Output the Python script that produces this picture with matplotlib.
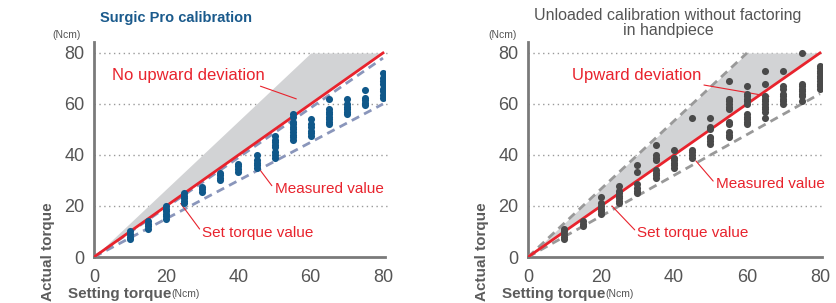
import numpy as np
import matplotlib.pyplot as plt

plt.rcParams['font.family'] = ['Liberation Sans', 'DejaVu Sans']

# setting torques (Ncm)
set_torque = [10, 15, 20, 25, 30, 35, 40, 45, 50, 55, 60, 65, 70, 75, 80]

# Surgic Pro calibration - measured values per setting
pro_vals = [
    [7, 8, 9, 10],
    [11, 12, 13, 14],
    [15, 16, 17, 18, 19, 20],
    [21, 22, 23, 24, 25],
    [25.5, 26.5, 27.5],
    [30, 31, 32, 33],
    [33.5, 34.5, 35.5, 36.5],
    [35, 36, 37, 38, 40],
    [39, 40, 41, 43, 44, 45, 46, 47.5],
    [46, 47, 48, 49, 50, 51, 52, 53, 55, 56],
    [47.5, 48.5, 49.5, 51, 52, 54],
    [52, 53, 54, 55, 56, 57, 58, 62],
    [56, 57, 58, 59, 60, 62],
    [59.5, 60.5, 61.5, 62.5, 65.5],
    [62.5, 63.5, 65, 66, 68, 69, 70, 72],
]

# unloaded calibration - measured values per setting
unl_vals = [
    [7, 8, 9, 10, 11],
    [12, 13, 14],
    [17, 18, 19, 20, 21, 23.5],
    [21, 22, 23, 24, 25, 26, 28],
    [25, 26, 27, 28.5, 33.5, 36],
    [31, 32, 33, 34, 38, 39, 40, 44],
    [35, 36, 37, 38, 39, 42],
    [39, 40, 41, 42, 54.5],
    [44.5, 45.5, 46.5, 47, 50, 51, 54.5],
    [47, 48, 49, 52, 53, 58, 59, 60, 61, 62, 69],
    [52, 53, 54, 55, 56, 60, 61, 62, 63, 64, 67],
    [54.5, 57, 58, 59, 60, 61, 62, 63, 68, 73],
    [60, 61, 62, 63, 64, 66, 67, 73],
    [61, 63, 64, 65, 66, 67, 68, 80],
    [66, 67, 68, 69, 70, 71, 72, 73, 74, 75],
]

grid_y = [20, 40, 60, 80]
ticks = [0, 20, 40, 60, 80]
band_x = [0, 60, 80]
band_top = [0, 80, 80]
band_low = [0, 60, 80]

RED = '#e8232d'
GREY_TXT = '#555555'

fig = plt.figure(figsize=(8.36, 3.03), dpi=100)
W, H = 836, 303


def setup(ax):
    ax.set_xlim(0, 80.5)
    ax.set_ylim(0, 84.3)
    for s in ['top', 'right']:
        ax.spines[s].set_visible(False)
    for s in ['left', 'bottom']:
        ax.spines[s].set_color('#7a7a7a')
        ax.spines[s].set_linewidth(2)
    ax.set_xticks(ticks)
    ax.set_yticks(ticks)
    ax.tick_params(length=0, labelsize=13, colors=GREY_TXT)
    ax.tick_params(axis='y', pad=7)
    ax.tick_params(axis='x', pad=9)
    for g in grid_y:
        ax.plot([0, 81], [g, g], ls=(0, (1, 2.5)), color='#999999', lw=1, clip_on=False, zorder=1)


def fx(px):
    return px / W


def fy(py):
    return 1 - py / H


# ---------- left panel ----------
ax1 = fig.add_axes([fx(94), fy(257), 290.8 / W, 215 / H])
setup(ax1)
ax1.fill_between(band_x, band_low, band_top, color='#d2d3d5', lw=0, zorder=2)
x = np.array([0, 80])
ax1.plot(x, 0.975 * x, ls=(0, (3, 2)), color='#8a96bb', lw=2, zorder=3)
ax1.plot(x, 0.75 * x, ls=(0, (3, 2)), color='#8a96bb', lw=2, zorder=3)
ax1.plot(x, x, color=RED, lw=2, zorder=4)
for st, vals in zip(set_torque, pro_vals):
    ax1.scatter([st] * len(vals), vals, s=26, color='#10588a', lw=0, zorder=5)

ax1.annotate('No upward deviation', xy=(56, 62), xytext=(5, 71), color=RED, fontsize=12,
             va='center', arrowprops=dict(arrowstyle='-', color=RED, lw=0.8, shrinkA=0, shrinkB=0,
                                          relpos=(0.92, 0)))
ax1.annotate('Measured value', xy=(45.5, 35), xytext=(50, 26.5), color=RED, fontsize=11,
             va='center', arrowprops=dict(arrowstyle='-', color=RED, lw=0.8, shrinkA=0, shrinkB=2,
                                          relpos=(0, 0.5)))
ax1.annotate('Set torque value', xy=(24, 21), xytext=(30, 9.5), color=RED, fontsize=11,
             va='center', arrowprops=dict(arrowstyle='-', color=RED, lw=0.8, shrinkA=0, shrinkB=0,
                                          relpos=(0, 0.5)))

fig.text(fx(100), fy(18), 'Surgic Pro calibration', color='#1a5a8c', fontsize=10.5,
         fontweight='bold', va='center')
fig.text(fx(52), fy(35), '(Ncm)', color=GREY_TXT, fontsize=7.5, va='center')
fig.text(fx(48), fy(252), 'Actual torque', color='#5c5c5c', fontsize=11, rotation=90,
         ha='center', va='center', fontweight='bold')
fig.text(fx(68), fy(294), 'Setting torque', color='#5c5c5c', fontsize=11, va='center',
         fontweight='bold')
fig.text(fx(171), fy(294), '(Ncm)', color=GREY_TXT, fontsize=7.5, va='center')

# ---------- right panel ----------
ax2 = fig.add_axes([fx(528), fy(257), 293.8 / W, 215 / H])
setup(ax2)
ax2.fill_between(band_x, band_low, band_top, color='#d2d3d5', lw=0, zorder=2)
ax2.plot([0, 60], [0, 80], ls=(0, (3, 2)), color='#999999', lw=2, zorder=3)
ax2.plot(x, 0.8 * x, ls=(0, (3, 2)), color='#999999', lw=2, zorder=3)
ax2.plot(x, x, color=RED, lw=2, zorder=4)
for st, vals in zip(set_torque, unl_vals):
    ax2.scatter([st] * len(vals), vals, s=26, color='#4a4a4a', lw=0, zorder=5)

ax2.annotate('Upward deviation', xy=(66, 63), xytext=(12, 71), color=RED, fontsize=12,
             va='center', arrowprops=dict(arrowstyle='-', color=RED, lw=0.8, shrinkA=0, shrinkB=0,
                                          relpos=(0.95, 0)))
ax2.annotate('Measured value', xy=(45.5, 38.5), xytext=(51.5, 28.5), color=RED, fontsize=11,
             va='center', arrowprops=dict(arrowstyle='-', color=RED, lw=0.8, shrinkA=0, shrinkB=2,
                                          relpos=(0, 0.5)))
ax2.annotate('Set torque value', xy=(23, 20), xytext=(30, 9.5), color=RED, fontsize=11,
             va='center', arrowprops=dict(arrowstyle='-', color=RED, lw=0.8, shrinkA=0, shrinkB=0,
                                          relpos=(0, 0.5)))

fig.text(fx(668), fy(23), 'Unloaded calibration without factoring\nin handpiece', color=GREY_TXT,
         fontsize=11.5, ha='center', va='center', linespacing=1.0)
fig.text(fx(488), fy(35), '(Ncm)', color=GREY_TXT, fontsize=7.5, va='center')
fig.text(fx(482), fy(252), 'Actual torque', color='#5c5c5c', fontsize=11, rotation=90,
         ha='center', va='center', fontweight='bold')
fig.text(fx(502), fy(294), 'Setting torque', color='#5c5c5c', fontsize=11, va='center',
         fontweight='bold')
fig.text(fx(605), fy(294), '(Ncm)', color=GREY_TXT, fontsize=7.5, va='center')

fig.savefig('out.png', dpi=100)
